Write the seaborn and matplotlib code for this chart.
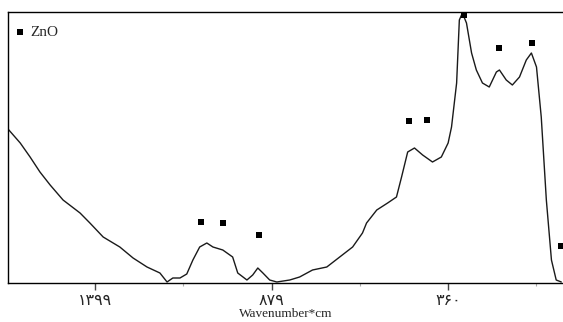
import matplotlib
matplotlib.use("Agg")
import matplotlib.pyplot as plt
import seaborn as sns
import pandas as pd

# Spectrum trace (wavenumber, intensity in arbitrary units)
wavenumber = [1655, 1619, 1590, 1561, 1531, 1493, 1443, 1414, 1375, 1326, 1287, 1246,
              1208, 1187, 1170, 1149, 1129, 1111, 1091, 1070, 1052, 1023, 994, 979,
              952, 935, 920, 905, 885, 864, 826, 797, 759, 717, 679, 641, 612, 600,
              570, 538, 512, 497, 479, 459, 435, 406, 380, 360, 350, 335, 327, 318,
              306, 291, 277, 259, 239, 218, 209, 189, 171, 150, 130, 115, 100, 86,
              71, 56, 42, 27]
intensity = [154, 140, 126, 111, 98, 83, 70, 60, 46, 36, 25, 16,
             10, 1, 5, 5, 9, 23, 36, 40, 36, 33, 26, 10,
             3, 8, 15, 10, 3, 1, 3, 6, 13, 16, 26, 36, 50, 60,
             73, 80, 86, 106, 131, 135, 128, 121, 126, 140, 156, 200, 263, 270,
             260, 230, 213, 200, 196, 211, 213, 203, 198, 206, 223, 230, 216, 166,
             83, 23, 3, 1]

# ZnO reference peak markers
zno_wavenumber = [1088, 1023, 917, 474, 421, 312, 209, 112, 27]
zno_intensity = [61, 60, 48, 162, 163, 268, 235, 240, 37]

tick_values = [1399, 879, 360]
tick_labels = ["۱۳۹۹", "۸۷۹", "۳۶۰"]
minor_ticks = [1139, 619, 100]

sns.set_style("white")
plt.rcParams["font.family"] = ["Liberation Serif", "DejaVu Sans"]

fig = plt.figure(figsize=(5.63, 3.22), dpi=100)
ax = fig.add_axes([8 / 563, 39 / 322, 1 - 8 / 563, 271 / 322])

spec = pd.DataFrame({"w": wavenumber, "i": intensity})
zno = pd.DataFrame({"w": zno_wavenumber, "i": zno_intensity})

sns.lineplot(data=spec, x="w", y="i", ax=ax, color="#1a1a1a", linewidth=1.0,
             estimator=None, legend=False)
sns.scatterplot(data=zno, x="w", y="i", ax=ax, marker="s", s=18, color="black",
                edgecolor="black", linewidth=0, label="ZnO", zorder=5)
for coll in ax.collections:
    coll.set_clip_on(False)

ax.set_xlim(1655, 22)
ax.set_ylim(0, 271)

for side in ["left", "bottom", "top"]:
    ax.spines[side].set_visible(True)
    ax.spines[side].set_color("black")
    ax.spines[side].set_linewidth(1.0)
ax.spines["right"].set_visible(False)

ax.set_yticks([])
ax.set_xticks(tick_values)
ax.set_xticklabels(tick_labels, fontsize=11.5, family=["DejaVu Sans"])
ax.set_xticks(minor_ticks, minor=True)
ax.tick_params(axis="x", which="major", direction="out", length=5, width=1,
               color="#444444", pad=2, bottom=True)
ax.tick_params(axis="x", which="minor", direction="out", length=2, width=0.8,
               color="#aaaaaa", bottom=True)
ax.set_xlabel("Wavenumber*cm", fontsize=9.5, labelpad=0)
ax.set_ylabel("")

leg = ax.legend(loc="center left", bbox_to_anchor=(0.0, 0.925), frameon=False,
                fontsize=11, handletextpad=0.15, borderaxespad=0.0, borderpad=0.3,
                handlelength=1.0)

fig.savefig("out.png", dpi=100)
